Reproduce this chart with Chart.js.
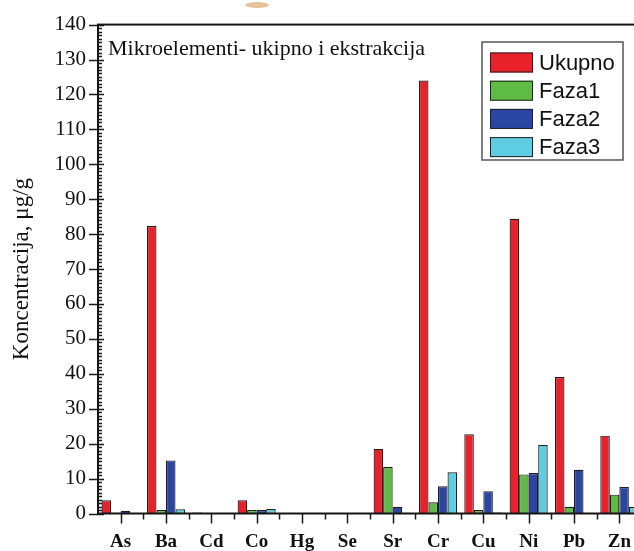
<!DOCTYPE html>
<html>
<head>
<meta charset="utf-8">
<script src="https://cdn.jsdelivr.net/npm/chart.js@4"></script>
<style>
    html, body { margin: 0; padding: 0; background: #fff; overflow: hidden; }
    #wrap { width: 660px; height: 551px; position: relative; }
</style>
</head>
<body>
<div id="wrap"><canvas id="chart_micro"></canvas></div>
<script>
const elements = ['As', 'Ba', 'Cd', 'Co', 'Hg', 'Se', 'Sr', 'Cr', 'Cu', 'Ni', 'Pb', 'Zn'];
const ukupno = [3.8, 82.3, 0.3, 3.8, 0, 0, 18.5, 124.0, 22.7, 84.4, 39.1, 22.3];
const faza1 = [0.2, 1.0, 0, 1.0, 0, 0, 13.3, 3.2, 1.0, 11.2, 1.9, 5.4];
const faza2 = [0.8, 15.2, 0, 1.0, 0, 0, 1.9, 7.8, 6.4, 11.6, 12.5, 7.6];
const faza3 = [0.1, 1.2, 0, 1.3, 0, 0, 0.2, 11.8, 0.3, 19.6, 0, 1.9];
const seriesNames = ['Ukupno', 'Faza1', 'Faza2', 'Faza3'];
const seriesColors = ['#e8212a', '#5dbb46', '#2b45a2', '#5ecde2'];
const chartTitle = 'Mikroelementi- ukipno i ekstrakcija';
const yTitle = 'Koncentracija, μg/g';

const serif = "'Liberation Serif', 'Times New Roman', serif";
const sans = "'Liberation Sans', Arial, sans-serif";

// tick marks, frame, inner title and boxed legend
const chartDecor = {
    id: 'chartDecor',
    afterDraw(chart) {
        const ctx = chart.ctx;
        const area = chart.chartArea;
        const x = chart.scales.x;
        const y = chart.scales.y;
        ctx.save();
        ctx.strokeStyle = '#1a1a1a';
        ctx.lineWidth = 1.5;
        ctx.beginPath();
        for (let v = 0; v <= 140; v++) {
            const py = Math.round(y.getPixelForValue(v)) + 0.5;
            const major = v % 10 === 0;
            ctx.moveTo(area.left, py);
            ctx.lineTo(area.left + (major ? 6 : 4), py);
            if (major) {
                ctx.moveTo(area.left - 9, py);
                ctx.lineTo(area.left, py);
            }
        }
        const half = (x.getPixelForValue(1) - x.getPixelForValue(0)) / 2;
        elements.forEach((el, i) => {
            const px = Math.round(x.getPixelForValue(i)) + 0.5;
            ctx.moveTo(px, area.bottom);
            ctx.lineTo(px, area.bottom + 10);
            const pb = Math.round(x.getPixelForValue(i) + half) + 0.5;
            ctx.moveTo(pb, area.bottom);
            ctx.lineTo(pb, area.bottom + 6);
        });
        ctx.stroke();

        ctx.lineWidth = 2;
        ctx.strokeStyle = '#151515';
        ctx.strokeRect(area.left, area.top, area.right - area.left, area.bottom - area.top);

        ctx.fillStyle = '#111';
        ctx.font = '22px ' + serif;
        ctx.textBaseline = 'middle';
        ctx.textAlign = 'left';
        ctx.fillText(chartTitle, area.left + 10, area.top + 25);

        // legend box
        const lx = 482, ly = 42, lw = 141, lh = 118;
        ctx.lineWidth = 1.5;
        ctx.strokeStyle = '#555';
        ctx.strokeRect(lx, ly, lw, lh);
        ctx.font = '22px ' + sans;
        chart.data.datasets.forEach((ds, i) => {
            const cy = 62.5 + i * 28.2;
            ctx.fillStyle = ds.backgroundColor;
            ctx.fillRect(490, cy - 10, 43, 20);
            ctx.lineWidth = 1;
            ctx.strokeStyle = '#222';
            ctx.strokeRect(490.5, cy - 9.5, 42, 19);
            ctx.fillStyle = '#111';
            ctx.fillText(ds.label, 539, cy + 1);
        });

        // orange speck at the top of the scan
        ctx.fillStyle = '#e6c29c';
        ctx.beginPath();
        ctx.ellipse(257, 5, 12, 3, 0, 0, Math.PI * 2);
        ctx.fill();
        ctx.restore();
    }
};

new Chart(document.getElementById('chart_micro'), {
    type: 'bar',
    data: {
        labels: elements,
        datasets: [ukupno, faza1, faza2, faza3].map((vals, i) => ({
            label: seriesNames[i],
            data: vals,
            backgroundColor: seriesColors[i],
            borderColor: '#1e1e1e',
            borderWidth: 1.2,
            categoryPercentage: 0.84,
            barPercentage: 1
        }))
    },
    options: {
        responsive: true,
        maintainAspectRatio: false,
        animation: false,
        layout: { padding: { top: 20, right: 18, left: 0, bottom: 0 } },
        plugins: {
            legend: { display: false },
            tooltip: { enabled: false }
        },
        scales: {
            x: {
                grid: { display: false, drawTicks: false },
                border: { display: false },
                ticks: {
                    padding: 17,
                    color: '#111',
                    font: { family: serif, size: 19, weight: 'bold' }
                },
                afterFit(scale) { scale.height = 37.5; }
            },
            y: {
                min: 0,
                max: 140,
                grid: { display: false, drawTicks: false },
                border: { display: false },
                ticks: {
                    stepSize: 10,
                    padding: 12,
                    color: '#111',
                    font: { family: serif, size: 21 }
                },
                title: {
                    display: true,
                    text: yTitle,
                    color: '#111',
                    padding: { top: 8, bottom: 0 },
                    font: { family: serif, size: 23 }
                },
                afterFit(scale) { scale.width = 98; }
            }
        }
    },
    plugins: [chartDecor]
});
</script>
</body>
</html>
